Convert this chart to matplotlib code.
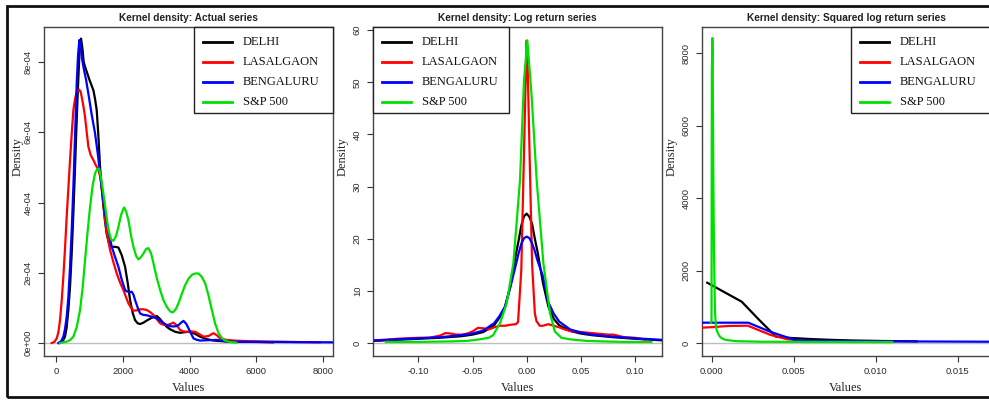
import matplotlib
matplotlib.use("Agg")
import matplotlib.pyplot as plt
from matplotlib.patches import Rectangle
from matplotlib.lines import Line2D

W, H = 989, 400

series_names = ["DELHI", "LASALGAON", "BENGALURU", "S&P 500"]
series_colors = ["#000000", "#ff0000", "#0000ff", "#00e000"]

# ---------------- Panel 1: actual series ----------------
act_delhi_x = [100, 200, 270, 320, 370, 420, 470, 520, 570, 610, 650, 690, 720, 750, 790, 830, 870, 930, 1000,
               1060, 1120, 1170, 1220, 1270, 1320, 1370, 1420, 1470, 1520, 1600, 1670, 1770, 1870, 1970,
               2070, 2150, 2220, 2300, 2370, 2450, 2520, 2620, 2720, 2870, 3020, 3120, 3220, 3320, 3420,
               3570, 3720, 3870, 4020, 4170, 4320, 4520, 4720, 5000, 5320, 6000, 6500]
act_delhi_y = [0.0, 0.05e-4, 0.18e-4, 0.45e-4, 0.94e-4, 1.6e-4, 2.55e-4, 3.7e-4, 5.0e-4, 6.1e-4, 7.1e-4,
               8.0e-4, 8.5e-4, 8.67e-4, 8.4e-4, 8.0e-4, 7.87e-4, 7.7e-4, 7.5e-4, 7.35e-4, 7.2e-4, 6.95e-4,
               6.63e-4, 5.9e-4, 5.0e-4, 4.4e-4, 3.9e-4, 3.45e-4, 3.1e-4, 2.8e-4, 2.74e-4, 2.74e-4, 2.72e-4,
               2.5e-4, 2.17e-4, 1.7e-4, 1.22e-4, 0.85e-4, 0.65e-4, 0.56e-4, 0.54e-4, 0.58e-4, 0.64e-4,
               0.72e-4, 0.77e-4, 0.68e-4, 0.56e-4, 0.46e-4, 0.39e-4, 0.32e-4, 0.29e-4, 0.31e-4, 0.32e-4,
               0.26e-4, 0.18e-4, 0.11e-4, 0.07e-4, 0.05e-4, 0.04e-4, 0.03e-4, 0.02e-4]
act_lasal_x = [-130, -50, 20, 70, 120, 170, 220, 270, 320, 370, 420, 470, 520, 570, 620, 690, 740, 770, 820,
               870, 920, 970, 1040, 1120, 1200, 1270, 1320, 1370, 1420, 1470, 1540, 1620, 1720, 1820, 1920,
               2020, 2100, 2170, 2250, 2320, 2420, 2520, 2620, 2720, 2820, 2920, 3020, 3120, 3220, 3320,
               3420, 3520, 3620, 3720, 3820, 3920, 4050, 4170, 4300, 4420, 4570, 4720, 4820, 4920, 5100,
               5320, 5800, 6320, 7000, 7900]
act_lasal_y = [0.0, 0.03e-4, 0.13e-4, 0.3e-4, 0.65e-4, 1.2e-4, 1.89e-4, 2.7e-4, 3.6e-4, 4.4e-4, 5.21e-4,
               5.95e-4, 6.63e-4, 6.95e-4, 7.15e-4, 7.22e-4, 7.15e-4, 7.01e-4, 6.75e-4, 6.44e-4, 6.0e-4,
               5.59e-4, 5.35e-4, 5.21e-4, 5.05e-4, 4.93e-4, 4.75e-4, 4.45e-4, 4.0e-4, 3.5e-4, 3.05e-4,
               2.65e-4, 2.3e-4, 1.98e-4, 1.72e-4, 1.51e-4, 1.3e-4, 1.13e-4, 1.0e-4, 0.92e-4, 0.93e-4,
               0.96e-4, 0.96e-4, 0.94e-4, 0.88e-4, 0.80e-4, 0.68e-4, 0.56e-4, 0.52e-4, 0.51e-4, 0.54e-4,
               0.58e-4, 0.5e-4, 0.37e-4, 0.33e-4, 0.32e-4, 0.33e-4, 0.32e-4, 0.25e-4, 0.18e-4, 0.2e-4,
               0.28e-4, 0.22e-4, 0.13e-4, 0.09e-4, 0.07e-4, 0.05e-4, 0.04e-4, 0.03e-4, 0.02e-4]
act_beng_x = [70, 150, 220, 270, 320, 370, 420, 470, 520, 570, 620, 660, 700, 740, 780, 820, 900, 970, 1070,
              1170, 1250, 1320, 1400, 1470, 1570, 1670, 1770, 1870, 1970, 2070, 2120, 2170, 2220, 2270,
              2320, 2370, 2450, 2520, 2620, 2720, 2870, 3020, 3170, 3320, 3420, 3520, 3600, 3670, 3750,
              3820, 3900, 3970, 4050, 4120, 4220, 4320, 4570, 4820, 5120, 6500, 8300]
act_beng_y = [0.0, 0.05e-4, 0.18e-4, 0.4e-4, 0.75e-4, 1.3e-4, 2.17e-4, 3.2e-4, 4.45e-4, 5.9e-4, 7.4e-4,
              8.2e-4, 8.63e-4, 8.5e-4, 8.1e-4, 7.87e-4, 7.5e-4, 7.1e-4, 6.5e-4, 5.97e-4, 5.4e-4, 4.83e-4,
              4.2e-4, 3.69e-4, 3.2e-4, 2.74e-4, 2.45e-4, 2.17e-4, 1.8e-4, 1.51e-4, 1.47e-4, 1.46e-4,
              1.45e-4, 1.46e-4, 1.38e-4, 1.22e-4, 1.0e-4, 0.84e-4, 0.8e-4, 0.79e-4, 0.75e-4, 0.70e-4,
              0.6e-4, 0.51e-4, 0.48e-4, 0.47e-4, 0.48e-4, 0.51e-4, 0.58e-4, 0.63e-4, 0.55e-4, 0.42e-4,
              0.26e-4, 0.13e-4, 0.09e-4, 0.07e-4, 0.08e-4, 0.09e-4, 0.04e-4, 0.03e-4, 0.02e-4]
act_sp_x = [120, 320, 420, 520, 620, 720, 800, 870, 950, 1020, 1100, 1170, 1230, 1290, 1350, 1420, 1500, 1570,
            1650, 1720, 1800, 1870, 1950, 2040, 2100, 2170, 2250, 2320, 2400, 2470, 2550, 2620, 2700, 2770,
            2850, 2920, 3020, 3120, 3220, 3320, 3420, 3500, 3580, 3670, 3770, 3870, 3970, 4070, 4170, 4270,
            4370, 4470, 4570, 4670, 4770, 4870, 4970, 5070, 5200, 5400]
act_sp_y = [0.0, 0.04e-4, 0.08e-4, 0.18e-4, 0.45e-4, 0.94e-4, 1.6e-4, 2.36e-4, 3.2e-4, 3.88e-4, 4.5e-4,
            4.83e-4, 4.95e-4, 4.97e-4, 4.7e-4, 4.26e-4, 3.7e-4, 3.22e-4, 2.95e-4, 2.91e-4, 3.05e-4,
            3.31e-4, 3.65e-4, 3.86e-4, 3.75e-4, 3.5e-4, 3.05e-4, 2.74e-4, 2.48e-4, 2.38e-4, 2.45e-4,
            2.55e-4, 2.68e-4, 2.7e-4, 2.55e-4, 2.27e-4, 1.85e-4, 1.51e-4, 1.22e-4, 1.03e-4, 0.9e-4,
            0.87e-4, 0.95e-4, 1.13e-4, 1.4e-4, 1.65e-4, 1.83e-4, 1.94e-4, 1.98e-4, 1.98e-4, 1.88e-4,
            1.70e-4, 1.35e-4, 0.94e-4, 0.55e-4, 0.28e-4, 0.14e-4, 0.07e-4, 0.03e-4, 0.01e-4]

# ---------------- Panel 2: log returns ----------------
lr_x = [-0.14, -0.12, -0.10, -0.08, -0.06, -0.05, -0.04, -0.03, -0.025, -0.02, -0.015, -0.01, -0.0075,
        -0.005, -0.0025, 0.0, 0.0025, 0.005, 0.0075, 0.01, 0.015, 0.02, 0.025, 0.03, 0.04, 0.05, 0.06, 0.08,
        0.10, 0.125]
lr_delhi_y = [0.4, 0.6, 0.8, 1.0, 1.3, 1.6, 2.1, 3.4, 4.9, 6.9, 11.0, 17.0, 19.6, 22.5, 24.3, 24.8, 24.2,
              22.8, 20.0, 17.5, 11.5, 7.0, 4.6, 3.4, 2.3, 1.8, 1.5, 1.1, 0.8, 0.5]
lr_beng_y = [0.5, 0.7, 0.9, 1.1, 1.5, 1.8, 2.4, 3.8, 5.2, 7.0, 10.8, 15.0, 17.2, 19.0, 20.1, 20.4, 20.1,
             19.1, 17.6, 15.8, 12.8, 7.8, 5.6, 4.1, 2.6, 2.0, 1.6, 1.2, 0.9, 0.6]
lr_lasal_x = [-0.14, -0.13, -0.12, -0.11, -0.10, -0.09, -0.08, -0.075, -0.07, -0.065, -0.06, -0.055, -0.05,
              -0.045, -0.04, -0.035, -0.03, -0.025, -0.02, -0.015, -0.01, -0.008, -0.005, -0.003, -0.001,
              0.0, 0.001, 0.003, 0.005, 0.0075, 0.009, 0.012, 0.015, 0.02, 0.025, 0.03, 0.035, 0.04, 0.045,
              0.05, 0.06, 0.07, 0.075, 0.08, 0.09, 0.10, 0.11]
lr_lasal_y = [0.5, 0.6, 0.8, 0.9, 1.0, 1.0, 1.4, 1.9, 1.8, 1.6, 1.6, 1.8, 2.2, 2.9, 2.8, 2.6, 3.0, 3.3,
              3.3, 3.5, 3.6, 4.0, 14.0, 32.0, 50.0, 58.0, 52.0, 33.0, 15.0, 5.7, 4.2, 3.3, 3.3, 3.6, 3.3,
              3.0, 2.6, 2.3, 2.2, 2.1, 1.9, 1.7, 1.6, 1.6, 1.1, 1.0, 0.6]
lr_sp_x = [-0.13, -0.10, -0.07, -0.055, -0.043, -0.035, -0.031, -0.0246, -0.0185, -0.0123, -0.0062, -0.0025,
           0.0006, 0.0046, 0.0092, 0.0154, 0.0215, 0.026, 0.032, 0.04, 0.055, 0.07, 0.09, 0.115]
lr_sp_y = [0.2, 0.2, 0.3, 0.4, 0.7, 1.0, 1.5, 3.8, 7.6, 15.3, 31.2, 50.4, 58.0, 47.2, 31.2, 15.3, 5.7, 2.2,
           1.0, 0.7, 0.4, 0.3, 0.2, 0.2]

# ---------------- Panel 3: squared log returns ----------------
sq_delhi_x = [-0.00027, 0.00183, 0.0029, 0.00392, 0.0048, 0.006, 0.0071, 0.0085, 0.0105, 0.0125]
sq_delhi_y = [1665, 1141, 636, 175, 140, 110, 90, 70, 55, 45]
sq_lasal_x = [-0.00059, 0.0001, 0.001, 0.0022, 0.0036, 0.0046, 0.0055, 0.007, 0.009, 0.011]
sq_lasal_y = [423, 440, 470, 478, 221, 105, 60, 50, 45, 40]
sq_beng_x = [-0.00059, 0.0005, 0.00223, 0.00356, 0.00508, 0.006, 0.008, 0.011, 0.014, 0.0172]
sq_beng_y = [561, 561, 561, 312, 83, 65, 55, 45, 40, 35]
sq_sp_x = [-0.00005, -0.00001, 0.00001, 0.00004, 0.00006, 0.0001, 0.00014, 0.0002, 0.00025, 0.0003,
           0.0004, 0.0005, 0.0007, 0.0009, 0.0015, 0.003, 0.006, 0.011]
sq_sp_y = [560, 600, 7350, 8420, 8000, 4600, 2570, 900, 500, 360, 250, 174, 110, 83, 50, 35, 30, 25]

panels = [
    dict(title="Kernel density: Actual series",
         xs=[act_delhi_x, act_lasal_x, act_beng_x, act_sp_x],
         ys=[act_delhi_y, act_lasal_y, act_beng_y, act_sp_y],
         xlim=(-360, 8300), ylim=(-3.7e-5, 9.0e-4),
         xticks=[0, 2000, 4000, 6000, 8000], xlabels=["0", "2000", "4000", "6000", "8000"],
         yticks=[0, 2e-4, 4e-4, 6e-4, 8e-4], ylabels=["0e+00", "2e-04", "4e-04", "6e-04", "8e-04"],
         box=(44, 333), leg=(194, 333), dens_x=18),
    dict(title="Kernel density: Log return series",
         xs=[lr_x, lr_lasal_x, lr_x, lr_sp_x],
         ys=[lr_delhi_y, lr_lasal_y, lr_beng_y, lr_sp_y],
         xlim=(-0.1419, 0.1249), ylim=(-2.5, 60.6),
         xticks=[-0.10, -0.05, 0.0, 0.05, 0.10], xlabels=["-0.10", "-0.05", "0.00", "0.05", "0.10"],
         yticks=[0, 10, 20, 30, 40, 50, 60], ylabels=["0", "10", "20", "30", "40", "50", "60"],
         box=(373, 662), leg=(373, 509), dens_x=343),
    dict(title="Kernel density: Squared log return series",
         xs=[sq_delhi_x, sq_lasal_x, sq_beng_x, sq_sp_x],
         ys=[sq_delhi_y, sq_lasal_y, sq_beng_y, sq_sp_y],
         xlim=(-0.00059, 0.01697), ylim=(-359, 8726),
         xticks=[0.0, 0.005, 0.010, 0.015], xlabels=["0.000", "0.005", "0.010", "0.015"],
         yticks=[0, 2000, 4000, 6000, 8000], ylabels=["0", "2000", "4000", "6000", "8000"],
         box=(702, 990), leg=(851, 992), dens_x=672),
]

fig = plt.figure(figsize=(W / 100, H / 100), dpi=100)
fig.patch.set_facecolor("white")

TOP, BOT = 27, 356
sans = "Liberation Sans"
serif = "Liberation Serif"
tick_col = "#2a2a2a"

def fx(px):
    return px / W

def fy(py):
    return 1 - py / H

for p in panels:
    l, r = p["box"]
    ax = fig.add_axes([fx(l), fy(BOT), (r - l) / W, (BOT - TOP) / H])
    ax.axhline(0, color="#bdbdbd", lw=1.0, zorder=1)
    for i in range(4):
        ax.plot(p["xs"][i], p["ys"][i], color=series_colors[i], lw=1.6, zorder=2 + i)
    ax.set_xlim(*p["xlim"])
    ax.set_ylim(*p["ylim"])
    ax.set_xticks(p["xticks"])
    ax.set_xticklabels(p["xlabels"], fontfamily=sans, fontsize=6.8, color=tick_col)
    ax.set_yticks(p["yticks"])
    ax.set_yticklabels(p["ylabels"], fontfamily=sans, fontsize=6.8, color=tick_col,
                       rotation=90, va="center")
    ax.tick_params(direction="out", length=4, width=0.8, color="#333333", pad=4)
    for s in ax.spines.values():
        s.set_color("#444444")
        s.set_linewidth(1.0)
    # title
    fig.text(fx((l + r) / 2), fy(18), p["title"], ha="center", va="center", fontfamily=sans,
             fontweight="bold", fontsize=7.3, color="#222222")
    # axis labels
    fig.text(fx((l + r) / 2), fy(388), "Values", ha="center", va="center", fontfamily=serif,
             fontsize=9, color="#222222")
    fig.text(fx(p["dens_x"]), fy(157), "Density", ha="center", va="center", rotation=90,
             fontfamily=serif, fontsize=9, color="#222222")
    # legend box
    bl, br = p["leg"]
    fig.patches.append(Rectangle((fx(bl), fy(113)), (br - bl) / W, (113 - TOP) / H,
                                 transform=fig.transFigure, facecolor="white", edgecolor="#222222",
                                 lw=1.0, zorder=5))
    for k, name in enumerate(series_names):
        yy = 41.7 + 20 * k
        fig.lines.append(Line2D([fx(bl + 9), fx(bl + 38)], [fy(yy), fy(yy)], transform=fig.transFigure,
                                color=series_colors[k], lw=2.0, zorder=6))
        fig.text(fx(bl + 49), fy(yy), name, ha="left", va="center", fontfamily=serif, fontsize=9,
                 color="#111111", zorder=6)

# outer frame
fig.patches.append(Rectangle((fx(7), fy(397)), (1000 - 7) / W, (397 - 6) / H, transform=fig.transFigure,
                             facecolor="none", edgecolor="#111111", lw=2.0, zorder=10))

fig.savefig("out.png", dpi=100)
